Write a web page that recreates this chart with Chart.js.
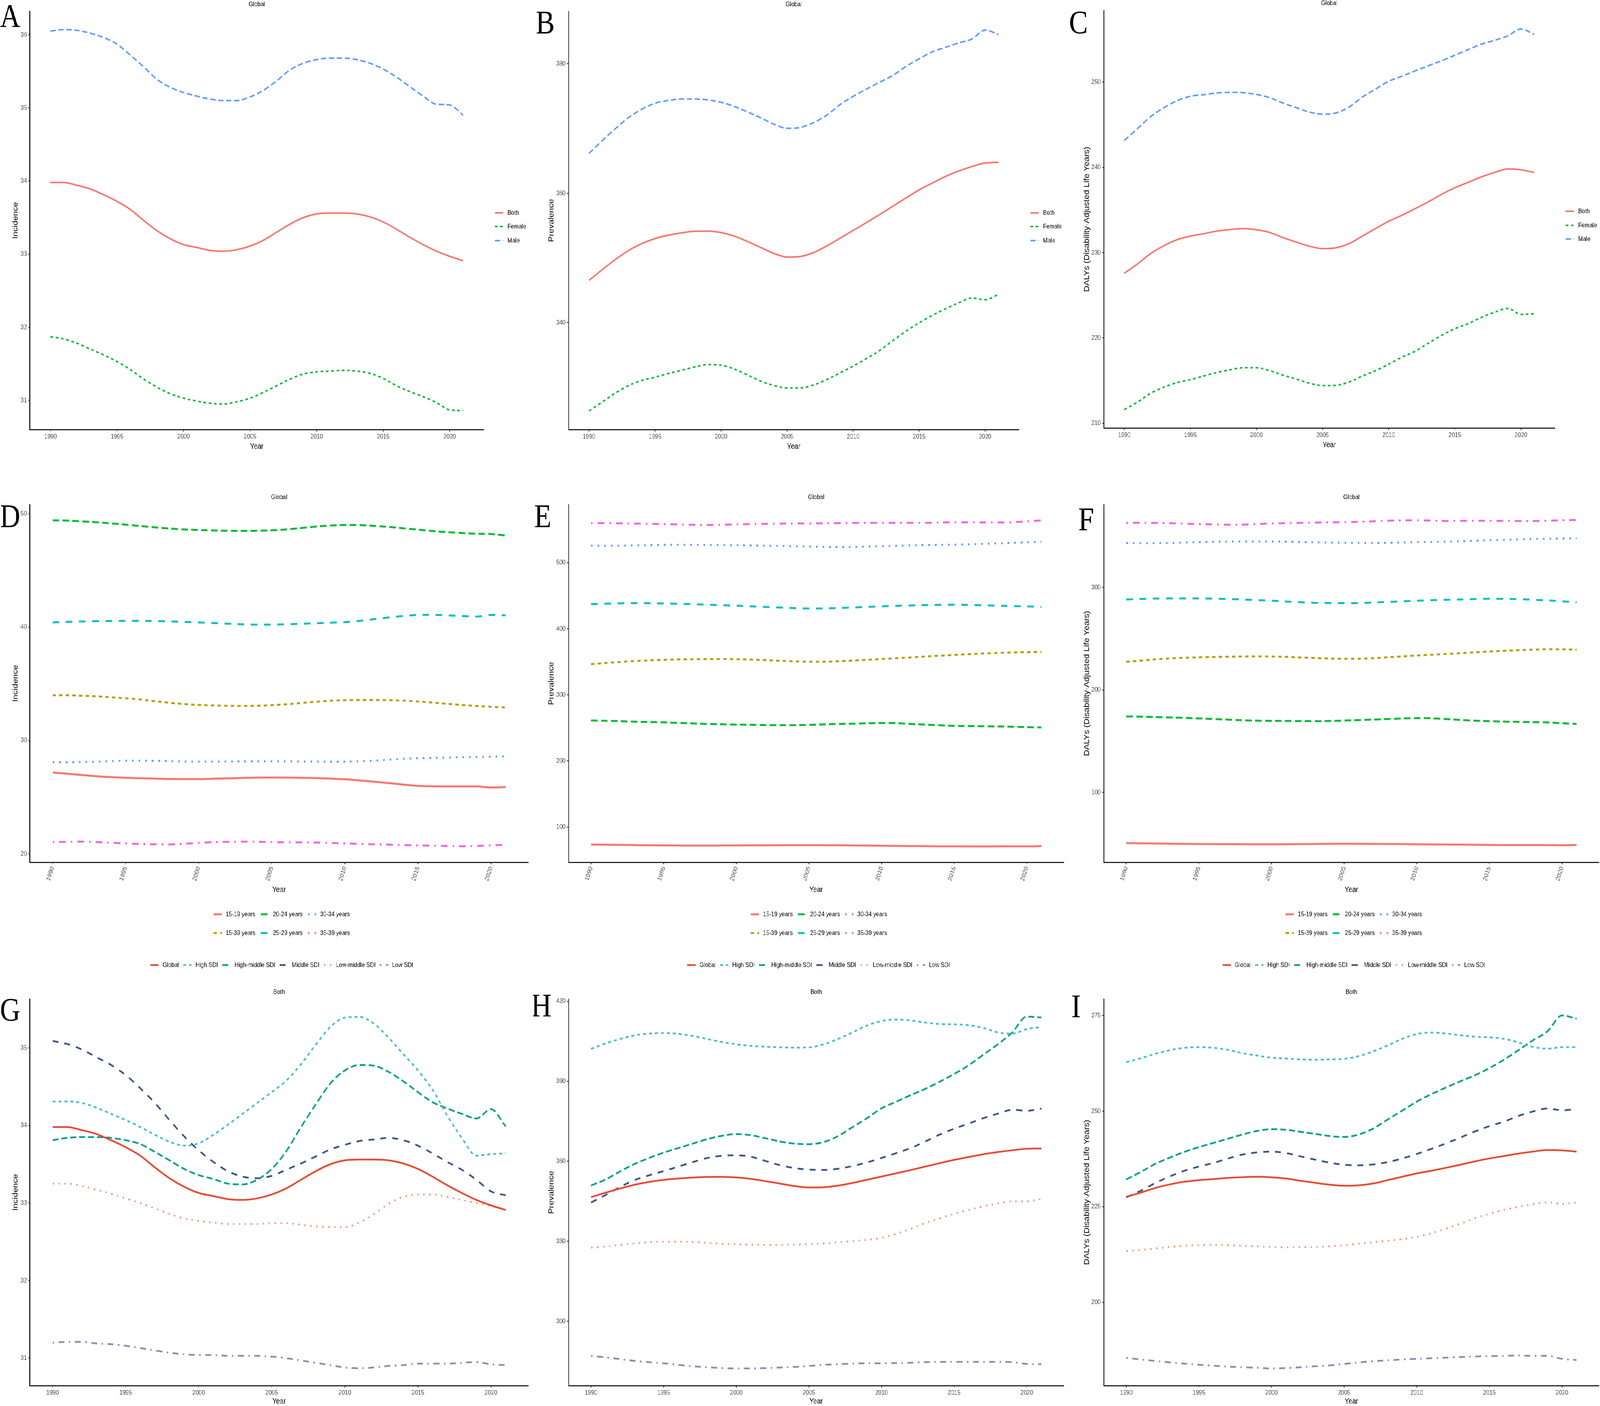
<!DOCTYPE html>
<html><head><meta charset="utf-8">
<script src="https://cdn.jsdelivr.net/npm/chart.js@4.4.1/dist/chart.umd.min.js"></script>
<style>
html,body{margin:0;padding:0;background:#fff;overflow:hidden;width:100%;height:100%;}
#wrap{position:absolute;left:0;top:0;width:4840px;height:3600px;overflow:hidden;background:#fff;transform-origin:0 0;}
#wrap canvas{position:absolute;}
</style></head>
<body><div id="wrap"></div>
<script>
// ---------------- DATA ----------------
const years = [1990,1991,1992,1993,1994,1995,1996,1997,1998,1999,2000,2001,2002,2003,2004,2005,2006,2007,2008,2009,2010,2011,2012,2013,2014,2015,2016,2017,2018,2019,2020,2021];
const xTicks = [1990,1995,2000,2005,2010,2015,2020];

// By sex (A, B, C)
const incBoth   = [33.98,33.98,33.94,33.89,33.81,33.72,33.61,33.46,33.32,33.21,33.13,33.09,33.05,33.04,33.06,33.11,33.19,33.30,33.41,33.50,33.55,33.56,33.56,33.55,33.51,33.44,33.34,33.23,33.13,33.04,32.97,32.91];
const incFemale = [31.87,31.84,31.78,31.70,31.62,31.53,31.42,31.29,31.18,31.09,31.03,30.99,30.96,30.95,30.98,31.03,31.11,31.20,31.29,31.36,31.39,31.40,31.41,31.40,31.37,31.30,31.20,31.12,31.05,30.97,30.87,30.86];
const incMale   = [36.05,36.07,36.06,36.02,35.96,35.87,35.72,35.56,35.39,35.28,35.21,35.16,35.12,35.10,35.10,35.15,35.24,35.37,35.52,35.61,35.66,35.68,35.68,35.66,35.61,35.53,35.42,35.29,35.16,35.05,35.04,34.90];

const prevBoth   = [346.55,348.21,349.78,351.17,352.23,353.01,353.52,353.89,354.12,354.16,353.93,353.38,352.55,351.63,350.70,350.15,350.24,350.84,351.86,353.06,354.26,355.46,356.70,357.99,359.28,360.53,361.59,362.61,363.44,364.13,364.68,364.78];
const prevFemale = [326.39,327.77,329.16,330.31,331.10,331.60,332.16,332.66,333.17,333.54,333.45,332.85,331.93,331.00,330.31,329.94,329.94,330.40,331.23,332.25,333.31,334.46,335.71,337.23,338.71,340.00,341.15,342.17,343.09,343.83,343.55,344.38];
const prevMale   = [366.16,368.14,369.99,371.70,372.99,373.91,374.33,374.56,374.56,374.42,374.05,373.41,372.57,371.65,370.68,370.03,370.17,370.91,372.06,373.68,374.97,376.08,377.14,378.20,379.58,380.78,381.85,382.54,383.23,383.83,385.21,384.52];

const dalyBoth   = [227.60,228.69,229.91,230.83,231.53,231.95,232.23,232.54,232.72,232.83,232.69,232.37,231.77,231.25,230.76,230.48,230.58,231.07,231.95,232.83,233.70,234.40,235.17,235.98,236.85,237.62,238.25,238.89,239.41,239.83,239.73,239.41];
const dalyFemale = [211.61,212.48,213.53,214.24,214.77,215.12,215.54,215.96,216.27,216.52,216.52,216.17,215.64,215.19,214.70,214.42,214.45,214.84,215.54,216.17,216.94,217.75,218.45,219.40,220.31,221.09,221.68,222.42,223.02,223.47,222.77,222.84];
const dalyMale   = [243.16,244.57,245.97,247.02,247.83,248.35,248.53,248.74,248.81,248.77,248.56,248.18,247.55,247.02,246.49,246.25,246.39,247.09,248.25,249.19,250.11,250.70,251.33,251.93,252.52,253.16,253.82,254.45,254.91,255.43,256.24,255.61];

// By age (D, E, F); "15-39 years" equals the "Both" series above
const incAge1519 = [27.17,27.06,26.95,26.84,26.76,26.70,26.66,26.63,26.60,26.59,26.59,26.62,26.65,26.69,26.72,26.73,26.72,26.70,26.68,26.63,26.57,26.47,26.36,26.24,26.10,25.99,25.95,25.94,25.94,25.94,25.85,25.88];
const incAge2024 = [49.42,49.40,49.33,49.25,49.15,49.04,48.92,48.80,48.70,48.62,48.57,48.53,48.50,48.49,48.50,48.54,48.62,48.74,48.87,48.96,49.01,49.00,48.93,48.84,48.72,48.60,48.48,48.38,48.30,48.24,48.21,48.08];
const incAge2529 = [40.41,40.46,40.50,40.52,40.54,40.55,40.55,40.53,40.50,40.46,40.41,40.36,40.30,40.25,40.22,40.22,40.25,40.29,40.34,40.39,40.44,40.55,40.70,40.85,40.98,41.07,41.08,41.04,40.98,40.93,41.07,41.04];
const incAge3034 = [28.08,28.07,28.09,28.12,28.17,28.21,28.22,28.20,28.17,28.14,28.13,28.13,28.14,28.15,28.16,28.16,28.15,28.14,28.13,28.12,28.13,28.16,28.21,28.30,28.38,28.43,28.46,28.48,28.52,28.54,28.56,28.60];
const incAge3539 = [21.02,21.05,21.07,21.03,20.97,20.91,20.86,20.83,20.82,20.88,20.96,21.02,21.05,21.07,21.06,21.02,21.01,21.00,20.99,20.95,20.91,20.87,20.83,20.80,20.77,20.74,20.71,20.68,20.66,20.69,20.74,20.80];

const prevAge1519 = [73.6,73.3,73.0,72.7,72.4,72.2,72.1,72.0,72.0,72.1,72.2,72.3,72.4,72.5,72.6,72.6,72.5,72.4,72.2,72.0,71.7,71.5,71.3,71.1,70.9,70.8,70.7,70.7,70.8,70.8,70.8,71.2];
const prevAge2024 = [261.2,260.8,260.2,259.5,258.9,258.4,257.6,256.8,256.1,255.5,255.1,254.7,254.3,254.1,254.2,254.6,255.3,256.0,256.4,257.0,257.4,257.2,256.0,255.0,254.0,253.2,252.8,252.5,252.2,251.8,251.2,250.8];
const prevAge2529 = [437.3,437.9,438.5,438.8,438.7,438.3,437.9,437.2,436.4,435.7,435.0,434.0,433.0,432.2,431.3,430.7,430.8,431.4,432.2,433.1,434.0,434.7,435.3,435.9,436.2,436.4,436.1,435.6,435.0,434.4,433.8,433.1];
const prevAge3034 = [525.9,525.6,525.8,526.2,526.6,526.9,527.0,526.9,526.8,526.6,526.4,526.1,525.7,525.3,524.9,524.5,524.0,523.6,523.8,524.4,525.0,525.6,526.2,526.7,527.0,527.3,527.8,528.5,529.2,530.0,530.8,531.6];
const prevAge3539 = [559.8,559.8,559.6,559.2,558.8,558.4,557.8,557.3,557.0,557.4,558.0,558.4,558.8,559.1,559.3,559.4,559.6,559.9,560.1,560.3,560.3,560.3,560.3,560.3,560.8,561.2,561.2,561.0,560.8,561.3,562.5,564.0];

const dalyAge1519 = [50.6,50.4,50.2,50.0,49.8,49.7,49.6,49.5,49.5,49.4,49.4,49.5,49.6,49.7,49.9,50.0,49.9,49.8,49.7,49.6,49.4,49.3,49.2,49.1,49.0,48.8,48.7,48.7,48.7,48.7,48.5,48.8];
const dalyAge2024 = [174.2,174.0,173.6,173.2,172.8,172.3,171.7,171.1,170.5,170.1,169.9,169.8,169.7,169.6,169.8,170.2,170.7,171.2,171.7,172.2,172.6,172.4,171.7,170.8,170.1,169.6,169.2,168.9,168.7,168.4,167.6,166.9];
const dalyAge2529 = [288.4,288.9,289.3,289.4,289.4,289.4,289.2,288.8,288.4,287.8,287.2,286.4,285.7,285.1,284.9,284.8,284.9,285.4,286.0,286.6,287.2,287.7,288.1,288.4,288.8,289.1,289.0,288.7,288.1,287.5,286.6,285.7];
const dalyAge3034 = [343.5,343.4,343.4,343.5,344.0,344.4,344.7,344.9,345.0,345.0,345.0,344.8,344.5,344.2,344.0,343.8,343.6,343.5,343.7,344.0,344.4,344.6,344.8,345.2,345.7,346.2,346.6,347.0,347.4,347.7,347.9,348.0];
const dalyAge3539 = [363.2,363.3,363.1,362.9,362.4,362.0,361.6,361.4,361.5,362.0,362.6,362.9,363.2,363.5,363.7,363.8,364.2,364.7,365.3,365.6,365.7,365.4,365.0,365.1,365.2,365.3,365.1,365.0,365.0,365.3,365.7,366.0];

// By SDI (G, H, I); "Global" equals the "Both" series above
const incHigh    = [34.31,34.31,34.29,34.23,34.15,34.07,33.98,33.88,33.79,33.74,33.77,33.88,34.01,34.15,34.29,34.43,34.58,34.79,35.04,35.27,35.39,35.40,35.31,35.13,34.92,34.71,34.46,34.13,33.84,33.61,33.63,33.64];
const incHighMid = [33.81,33.84,33.85,33.85,33.84,33.81,33.76,33.66,33.55,33.44,33.36,33.31,33.25,33.24,33.30,33.44,33.67,33.98,34.27,34.54,34.71,34.78,34.77,34.69,34.57,34.43,34.30,34.22,34.15,34.09,34.21,33.99];
const incMid     = [35.09,35.05,34.98,34.88,34.78,34.65,34.48,34.29,34.07,33.86,33.68,33.53,33.41,33.34,33.32,33.35,33.43,33.51,33.60,33.69,33.75,33.80,33.82,33.84,33.81,33.74,33.64,33.53,33.43,33.30,33.15,33.10];
const incLowMid  = [33.25,33.25,33.22,33.17,33.12,33.06,33.00,32.93,32.86,32.80,32.77,32.75,32.73,32.73,32.73,32.74,32.74,32.72,32.70,32.69,32.69,32.75,32.86,32.99,33.08,33.11,33.11,33.08,33.04,33.00,32.96,32.92];
const incLow     = [31.20,31.21,31.21,31.19,31.18,31.16,31.13,31.10,31.07,31.05,31.04,31.04,31.03,31.03,31.03,31.02,31.00,30.97,30.94,30.91,30.88,30.87,30.88,30.90,30.91,30.93,30.93,30.93,30.94,30.95,30.92,30.91];

const prevHigh    = [402.17,404.19,405.87,407.22,407.89,408.11,407.78,406.99,405.87,404.75,403.85,403.29,402.95,402.73,402.62,402.73,403.85,405.87,408.34,410.92,412.60,413.16,412.82,412.04,411.48,411.36,411.03,410.02,408.34,407.89,409.57,410.36];
const prevHighMid = [350.92,353.16,356.19,358.99,361.23,363.25,364.93,366.61,368.30,369.53,370.20,369.76,368.63,367.40,366.61,366.39,367.18,369.42,372.79,376.15,379.85,382.32,384.79,387.14,389.83,392.75,396.00,399.93,403.85,408.34,414.28,413.94];
const prevMid     = [344.53,347.33,350.36,352.94,354.73,356.30,357.98,359.66,361.23,362.02,362.24,361.68,360.11,358.54,357.42,356.86,356.75,357.20,358.21,359.55,361.23,363.03,364.93,367.40,369.98,372.22,374.13,376.15,377.83,379.29,378.95,379.74];
const prevLowMid  = [327.60,328.05,328.60,329.16,329.61,329.84,329.84,329.72,329.39,329.05,328.83,328.71,328.60,328.60,328.71,328.94,329.16,329.61,330.06,330.51,331.29,332.75,334.65,336.79,338.58,340.26,341.72,343.07,344.19,344.97,344.97,345.87];
const prevLow     = [286.99,286.43,285.76,285.09,284.64,284.19,283.63,283.07,282.73,282.40,282.28,282.28,282.40,282.62,282.85,283.18,283.63,283.85,284.08,284.19,284.19,284.30,284.42,284.64,284.75,284.75,284.75,284.75,284.75,284.64,283.97,283.85];

const dalyHigh    = [262.80,263.82,264.99,265.93,266.55,266.71,266.55,266.01,265.15,264.52,263.97,263.74,263.51,263.43,263.51,263.66,264.36,265.62,267.18,268.90,270.15,270.54,270.31,269.84,269.45,269.29,268.90,267.96,266.79,266.32,266.71,266.71];
const dalyHighMid = [232.14,234.10,236.21,237.85,239.34,240.59,241.68,242.78,243.87,244.81,245.28,245.12,244.57,244.03,243.48,243.24,243.87,245.44,247.79,250.13,252.48,254.43,256.15,257.79,259.36,261.24,263.43,265.93,268.51,270.86,275.00,274.14];
const dalyMid     = [227.45,229.17,231.20,232.92,234.41,235.50,236.44,237.61,238.63,239.18,239.41,239.02,238.16,237.30,236.52,235.97,235.82,236.05,236.68,237.61,238.79,240.12,241.53,243.09,244.66,246.07,247.24,248.73,249.90,250.68,250.21,250.52];
const dalyLowMid  = [213.37,213.69,214.08,214.47,214.78,214.94,215.02,214.94,214.78,214.63,214.47,214.39,214.39,214.47,214.63,214.94,215.33,215.72,216.11,216.50,217.13,218.07,219.24,220.57,221.98,223.15,224.17,224.95,225.66,226.13,225.74,226.05];
const dalyLow     = [185.45,185.06,184.67,184.28,183.97,183.66,183.42,183.19,183.03,182.88,182.72,182.80,183.03,183.27,183.50,183.89,184.28,184.60,184.83,185.06,185.22,185.38,185.53,185.69,185.84,185.92,186.00,186.08,186.00,186.00,185.22,184.91];

// Tick labels
const incTicksSex  = [31,32,33,34,35,36];
const prevTicksSex = [340,360,380];
const dalyTicksSex = [210,220,230,240,250];
const incTicksAge  = [20,30,40,50];
const prevTicksAge = [100,200,300,400,500];
const dalyTicksAge = [100,200,300];
const incTicksSDI  = [31,32,33,34,35];
const prevTicksSDI = [300,330,360,390,420];
const dalyTicksSDI = [200,225,250,275];

// Category labels
const sexLabels = ['Both','Female','Male'];
const ageLabels = ['15-19 years','15-39 years','20-24 years','25-29 years','30-34 years','35-39 years'];
const sdiLabels = ['Global','High SDI','High-middle SDI','Middle SDI','Low-middle SDI','Low SDI'];

// ---------------- STYLE ----------------
const FONT = "'Liberation Sans', Arial, Helvetica, sans-serif";
const SERIF = "'Liberation Serif', 'Times New Roman', serif";
const sexColors = ['#F8766D','#00BA38','#619CFF'];
const sexLT = ['solid','22','42'];
const ageColors = ['#F8766D','#B79F00','#00BA38','#00BFC4','#619CFF','#F564E3'];
const ageLT = ['solid','22','42','44','13','1343'];
const sdiColors = ['#E64B35','#4DBBD5','#00A087','#3C5488','#F39B7F','#8491B4'];
const sdiLT = ['solid','22','42','44','13','1343'];
const LT = {solid:[], '22':[2,2], '42':[4,2], '44':[4,4], '13':[1,3], '1343':[1,3,4,3]};
function dashOf(t, w){ return LT[t].map(v => v*w); }

function mk(labels, arrays, colors, lts){
  return labels.map((l,i) => ({label:l, data:arrays[i], color:colors[i], lt:lts[i]}));
}

const XMIN = 1988.45, XMAX = 2022.55;
const panels = [
  {letter:'A', lp:[0,69], box:[0,0,1613,1170], plot:[90.5,29,1463,1100], y:[30.60,36.32], yticks:incTicksSex,
   ytitle:'Incidence', ytx:47, xty:1143, title:'Global', tty:11, rot:0, xH:60, lw:4,
   series:mk(sexLabels,[incBoth,incFemale,incMale],sexColors,sexLT), legend:{type:'right', x:1497, ys:[545,580,616]}},
  {letter:'B', lp:[1621,86], box:[1613,0,1613,1170], plot:[1720,29,3082,1100], y:[323.5,388.1], yticks:prevTicksSex,
   ytitle:'Prevalence', ytx:1667.5, xty:1143, title:'Global', tty:11, rot:0, xH:60, lw:4,
   series:mk(sexLabels,[prevBoth,prevFemale,prevMale],sexColors,sexLT), legend:{type:'right', x:3117, ys:[545,580,616]}},
  {letter:'C', lp:[3234,86], box:[3226,0,1614,1170], plot:[3339,27,4703,1096], y:[209.44,258.4], yticks:dalyTicksSex,
   ytitle:'DALYs (Disability-Adjusted Life Years)', ytx:3288, xty:1139, title:'Global', tty:8, rot:0, xH:60, lw:4,
   series:mk(sexLabels,[dalyBoth,dalyFemale,dalyMale],sexColors,sexLT), legend:{type:'right', x:4736, ys:[541,577,612]}},

  {letter:'D', lp:[0,1350], box:[0,1170,1613,1270], plot:[90.5,1292,1598,2208], y:[19.24,50.81], yticks:incTicksAge,
   ytitle:'Incidence', ytx:47, xty:2278, title:'Global', tty:1273, rot:70, xH:100, lw:5,
   series:mk(ageLabels,[incAge1519,incBoth,incAge2024,incAge2529,incAge3034,incAge3539],ageColors,ageLT), legend:{type:'grid', x:646, ys:[2341,2389]}},
  {letter:'E', lp:[1616,1350], box:[1613,1170,1613,1270], plot:[1720,1292,3218,2208], y:[46.6,587.9], yticks:prevTicksAge,
   ytitle:'Prevalence', ytx:1667.5, xty:2278, title:'Global', tty:1273, rot:70, xH:100, lw:5,
   series:mk(ageLabels,[prevAge1519,prevBoth,prevAge2024,prevAge2529,prevAge3034,prevAge3539],ageColors,ageLT), legend:{type:'grid', x:2271, ys:[2341,2389]}},
  {letter:'F', lp:[3262,1358], box:[3226,1170,1614,1270], plot:[3339,1292,4837,2208], y:[31.8,381], yticks:dalyTicksAge,
   ytitle:'DALYs (Disability-Adjusted Life Years)', ytx:3288, xty:2278, title:'Global', tty:1273, rot:70, xH:100, lw:5,
   series:mk(ageLabels,[dalyAge1519,dalyBoth,dalyAge2024,dalyAge2529,dalyAge3034,dalyAge3539],ageColors,ageLT), legend:{type:'grid', x:3889, ys:[2341,2389]}},

  {letter:'G', lp:[0,2614], box:[0,2440,1613,1160], plot:[90.5,2558,1598,3548], y:[30.645,35.63], yticks:incTicksSDI,
   ytitle:'Incidence', ytx:47, xty:3588, title:'Both', tty:2540, rot:0, xH:52, lw:4.5,
   series:mk(sdiLabels,[incBoth,incHigh,incHighMid,incMid,incLowMid,incLow],sdiColors,sdiLT), legend:{type:'row', x:455, y:2471}},
  {letter:'H', lp:[1607,2603], box:[1613,2440,1613,1160], plot:[1720,2558,3218,3548], y:[275.8,420.85], yticks:prevTicksSDI,
   ytitle:'Prevalence', ytx:1667.5, xty:3588, title:'Both', tty:2540, rot:0, xH:52, lw:4.5,
   series:mk(sdiLabels,[prevBoth,prevHigh,prevHighMid,prevMid,prevLowMid,prevLow],sdiColors,sdiLT), legend:{type:'row', x:2079, y:2471}},
  {letter:'I', lp:[3241,2605], box:[3226,2440,1614,1160], plot:[3339,2558,4837,3548], y:[178.2,279.3], yticks:dalyTicksSDI,
   ytitle:'DALYs (Disability-Adjusted Life Years)', ytx:3288, xty:3588, title:'Both', tty:2540, rot:0, xH:52, lw:4.5,
   series:mk(sdiLabels,[dalyBoth,dalyHigh,dalyHighMid,dalyMid,dalyLowMid,dalyLow],sdiColors,sdiLT), legend:{type:'row', x:3698, y:2471}}
];

// ---------------- DRAW ----------------
const wrap = document.getElementById('wrap');
// stretch the 4840x3600 design over the whole viewport
const vw = window.innerWidth || document.documentElement.clientWidth || 4840;
const vh = window.innerHeight || document.documentElement.clientHeight || 3600;
const SX = vw / 4840, SY = vh / 3600;
wrap.style.transform = 'scale(' + SX + ',' + SY + ')';
const DPR = Math.max(SX, SY) * (window.devicePixelRatio || 1);

const TICK_FONT = {size:17, family:FONT};
const LEG_FONT = "17px " + FONT;

function sample(ctx, x, y, s, w){
  ctx.save();
  ctx.beginPath();
  ctx.setLineDash(dashOf(s.lt, w));
  ctx.lineWidth = w; ctx.strokeStyle = s.color; ctx.lineCap = 'butt';
  ctx.moveTo(x, y); ctx.lineTo(x + 25, y); ctx.stroke();
  ctx.restore();
}

function drawDeco(chart, p){
  const ctx = chart.ctx;
  const cx = p.box[0], cy = p.box[1];
  ctx.save();
  ctx.fillStyle = '#000';
  ctx.font = "17px " + FONT; ctx.textAlign = 'center'; ctx.textBaseline = 'middle';
  ctx.fillText(p.title, (p.plot[0] + p.plot[2]) / 2 - cx, p.tty - cy);
  ctx.font = "85px " + SERIF; ctx.textAlign = 'left'; ctx.textBaseline = 'alphabetic';
  ctx.fillText(p.letter, p.lp[0] - cx, p.lp[1] - cy);
  ctx.font = LEG_FONT; ctx.textBaseline = 'middle'; ctx.textAlign = 'left';
  const L = p.legend, S = p.series;
  if (L.type === 'right') {
    S.forEach((s, i) => {
      sample(ctx, L.x - cx, L.ys[i] - cy, s, p.lw);
      ctx.fillStyle = '#000';
      ctx.fillText(s.label, L.x - cx + 38, L.ys[i] - cy);
    });
  } else if (L.type === 'grid') {
    let x = L.x - cx;
    for (let c = 0; c < 3; c++) {
      const col = [S[c*2], S[c*2+1]];
      let mw = 0;
      col.forEach((s, r) => {
        sample(ctx, x, L.ys[r] - cy, s, p.lw);
        ctx.fillStyle = '#000';
        ctx.fillText(s.label, x + 37, L.ys[r] - cy);
        mw = Math.max(mw, ctx.measureText(s.label).width);
      });
      x += 37 + mw + 16;
    }
  } else {
    let x = L.x - cx;
    S.forEach(s => {
      sample(ctx, x, L.y - cy, s, p.lw);
      ctx.fillStyle = '#000';
      ctx.fillText(s.label, x + 37, L.y - cy);
      x += 37 + ctx.measureText(s.label).width + 13;
    });
  }
  ctx.restore();
}

panels.forEach(p => {
  const [cx, cy, cw, ch] = p.box;
  const [Lp, Tp, Rp, Bp] = p.plot;
  const cv = document.createElement('canvas');
  cv.style.left = cx + 'px'; cv.style.top = cy + 'px';
  cv.style.width = cw + 'px'; cv.style.height = ch + 'px';
  cv.width = cw; cv.height = ch;
  wrap.appendChild(cv);

  const yW = Lp - cx;
  const pad = {left:0, top:Tp - cy, right:cx + cw - Rp, bottom:cy + ch - Bp - p.xH};
  const yTitleSize = 22, xTitleSize = 20;
  const yTitlePad = (p.ytx - cx) - yTitleSize * 1.2 / 2;
  const xTitlePad = Math.max(0, Bp + p.xH - p.xty - xTitleSize * 1.2 / 2);

  const datasets = p.series.map(s => ({
    label: s.label,
    data: years.map((yr, i) => ({x: yr, y: s.data[i]})),
    borderColor: s.color,
    backgroundColor: s.color,
    borderWidth: p.lw,
    borderDash: dashOf(s.lt, p.lw),
    borderCapStyle: 'butt',
    borderJoinStyle: 'round',
    pointRadius: 0,
    pointHoverRadius: 0,
    fill: false,
    cubicInterpolationMode: 'monotone'
  }));

  const yTicksArr = p.yticks;
  new Chart(cv, {
    type: 'line',
    data: {datasets},
    options: {
      responsive: false,
      maintainAspectRatio: false,
      animation: false,
      devicePixelRatio: DPR,
      layout: {padding: pad},
      plugins: {legend: {display: false}, tooltip: {enabled: false}, title: {display: false}},
      scales: {
        x: {
          type: 'linear', min: XMIN, max: XMAX,
          afterBuildTicks: s => { s.ticks = xTicks.map(v => ({value: v})); },
          afterFit: s => { s.height = p.xH; },
          ticks: {autoSkip: false, minRotation: p.rot, maxRotation: p.rot, padding: 3, color: '#4d4d4d', font: TICK_FONT, callback: v => String(v)},
          grid: {display: true, drawOnChartArea: false, drawTicks: true, tickLength: 5, tickColor: '#333', tickWidth: 2, color: '#333', lineWidth: 2},
          border: {display: true, color: '#000', width: 2.5},
          title: {display: true, text: 'Year', color: '#000', font: {size: xTitleSize, family: FONT}, padding: {top: 0, bottom: xTitlePad}}
        },
        y: {
          type: 'linear', min: p.y[0], max: p.y[1],
          afterBuildTicks: s => { s.ticks = yTicksArr.map(v => ({value: v})); },
          afterFit: s => { s.width = yW; },
          ticks: {padding: 4, color: '#4d4d4d', font: TICK_FONT, callback: v => String(v)},
          grid: {display: true, drawOnChartArea: false, drawTicks: true, tickLength: 5, tickColor: '#333', tickWidth: 2, color: '#333', lineWidth: 2},
          border: {display: true, color: '#000', width: 2.5},
          title: {display: true, text: p.ytitle, color: '#000', font: {size: yTitleSize, family: FONT}, padding: {top: yTitlePad, bottom: 0}}
        }
      }
    },
    plugins: [{id: 'deco', afterDraw: chart => drawDeco(chart, p)}]
  });
});
</script>
</body></html>
